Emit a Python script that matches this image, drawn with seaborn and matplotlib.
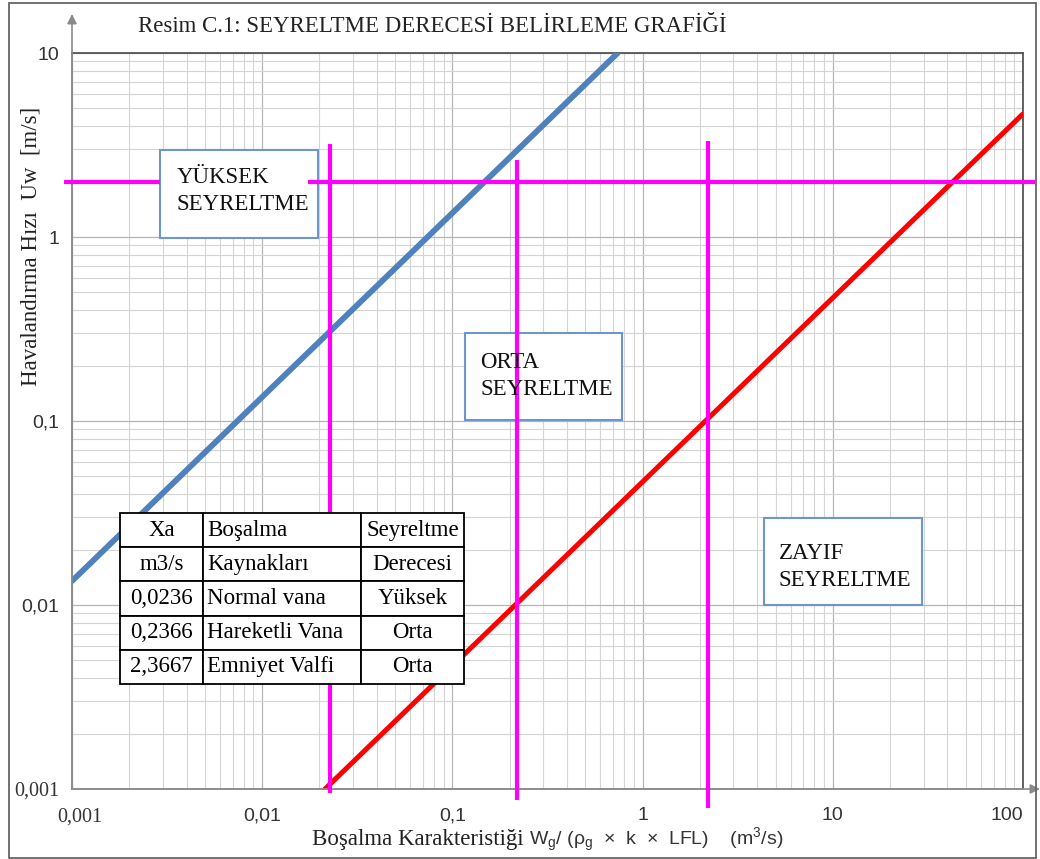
import matplotlib
matplotlib.use("Agg")
import matplotlib.pyplot as plt
import matplotlib.transforms as mtransforms
import seaborn as sns
from matplotlib.patches import Rectangle

# ---------------- data ----------------
blue_x = [0.001, 0.74]
blue_y = [0.0135, 10.0]
red_x = [0.0214, 100.0]
red_y = [0.001, 4.67]
uw_limit = 2.0
hline_segments = [(0.00091, 0.0029), (0.0174, 115.0)]
release_x = [0.0228, 0.219, 2.21]
release_top = [3.2, 2.62, 3.32]
release_bottom = [0.00095, 0.00087, 0.00079]
x_ticks = [0.001, 0.01, 0.1, 1, 10, 100]
x_ticklabels = ["0,001", "0,01", "0,1", "1", "10", "100"]
y_ticks = [0.001, 0.01, 0.1, 1, 10]
y_ticklabels = ["0,001", "0,01", "0,1", "1", "10"]
table_cells = [["Xa", "Boşalma", "Seyreltme"],
               ["m3/s", "Kaynakları", "Derecesi"],
               ["0,0236", "Normal vana", "Yüksek"],
               ["0,2366", "Hareketli Vana", "Orta"],
               ["2,3667", "Emniyet Valfi", "Orta"]]
zone_labels = ["YÜKSEK\nSEYRELTME", "ORTA\nSEYRELTME", "ZAYIF\nSEYRELTME"]
title = "Resim C.1: SEYRELTME DERECESİ BELİRLEME GRAFİĞİ"
ylabel = "Havalandırma Hızı  Uw  [m/s]"
xlabel_text = "Boşalma Karakteristiği"
xlabel_formula = r"W$_{g}$/ (ρ$_{g}$  ×  k  ×  LFL)    (m$^{3}$/s)"

# ---------------- style ----------------
sns.set_style("white")
plt.rcParams["font.family"] = ["Liberation Sans", "DejaVu Sans"]
plt.rcParams["mathtext.fontset"] = "custom"
plt.rcParams["mathtext.rm"] = "Liberation Sans"
plt.rcParams["mathtext.it"] = "Liberation Sans"
plt.rcParams["mathtext.default"] = "rm"

SERIF = ["Liberation Serif", "DejaVu Serif"]
BLUE = "#4f81bd"
RED = "#ff0000"
MAG = "#ff00ff"
BOXEDGE = "#6f96cc"

W, H = 1040, 859
fig = plt.figure(figsize=(W / 100, H / 100), dpi=100)
L, R, T, B = 72, 1023, 53, 789
ax = fig.add_axes([L / W, 1 - B / H, (R - L) / W, (B - T) / H])
ax.set_xscale("log")
ax.set_yscale("log")
ax.set_xlim(0.001, 100)
ax.set_ylim(0.001, 10)

ax.grid(which="major", color="#b5b5b5", lw=0.9, zorder=0)
ax.grid(which="minor", color="#d4d4d4", lw=0.8, zorder=0)
ax.set_axisbelow(True)

# lines
sns.lineplot(x=blue_x, y=blue_y, ax=ax, color=BLUE, lw=4.2, zorder=3)
sns.lineplot(x=red_x, y=red_y, ax=ax, color=RED, lw=3.6, zorder=3)

for x0, x1 in hline_segments:
    ax.plot([x0, x1], [uw_limit, uw_limit], color=MAG, lw=3, clip_on=False, zorder=4,
            solid_capstyle="butt")
for xv, yt, yb in zip(release_x, release_top, release_bottom):
    ax.plot([xv, xv], [yb, yt], color=MAG, lw=3, clip_on=False, zorder=4,
            solid_capstyle="butt")

# zone boxes (axes fraction)
def fx(px):
    return (px - L) / (R - L)

def fy(py):
    return (B - py) / (B - T)

boxes = [(160, 150, 318, 238, 177, 191),
         (465, 333, 622, 420, 480, 376),
         (764, 518, 922, 605, 779, 567)]
for (x0, y0, x1, y1, tx, ty), lab in zip(boxes, zone_labels):
    ax.add_patch(Rectangle((fx(x0), fy(y1)), fx(x1) - fx(x0), fy(y0) - fy(y1),
                           transform=ax.transAxes, facecolor="white",
                           edgecolor=BOXEDGE, lw=1.5, zorder=3.5))
    ax.text(fx(tx), fy(ty), lab, transform=ax.transAxes, ha="left", va="center",
            fontsize=16.5, family=SERIF, color="#111111", linespacing=1.35, zorder=6)

# table
tx0, ty0, tx1, ty1 = 120, 513, 464, 684
tbl = ax.table(cellText=table_cells, colWidths=[83, 158, 103],
               bbox=[fx(tx0), fy(ty1), fx(tx1) - fx(tx0), fy(ty0) - fy(ty1)],
               zorder=7)
tbl.auto_set_font_size(False)
for (r, c), cell in tbl.get_celld().items():
    cell.set_facecolor("white")
    cell.set_edgecolor("black")
    cell.set_linewidth(1.3)
    txt = cell.get_text()
    txt.set_fontsize(16.5)
    txt.set_fontfamily(SERIF)
    txt.set_color("black")
    if c == 1:
        cell._loc = "left"
        cell.PAD = 0.025
        txt.set_ha("left")
    else:
        cell._loc = "center"
        txt.set_ha("center")

# ticks
ax.set_xticks(x_ticks)
ax.set_xticklabels(x_ticklabels, fontsize=14, color="#333333")
ax.set_yticks(y_ticks)
ax.set_yticklabels(y_ticklabels, fontsize=14, color="#333333")
ax.tick_params(which="major", length=6, width=1, color="#999999", direction="out")
ax.tick_params(axis="x", which="major", pad=7)
ax.tick_params(axis="y", which="major", pad=3)
ax.tick_params(which="minor", length=0)
xl = ax.get_xticklabels()
xl[0].set_fontfamily(SERIF)
xl[0].set_fontsize(14.5)
xl[0].set_transform(xl[0].get_transform() +
                    mtransforms.ScaledTranslation(8 / 100, 0, fig.dpi_scale_trans))
xl[-1].set_ha("right")
yl = ax.get_yticklabels()
yl[0].set_fontfamily(SERIF)
yl[0].set_fontsize(14.5)

for side in ["left", "bottom"]:
    ax.spines[side].set_color("#999999")
    ax.spines[side].set_linewidth(1.2)
for side in ["top", "right"]:
    ax.spines[side].set_color("#555555")
    ax.spines[side].set_linewidth(1.3)

# axis arrows
ax.annotate("", xy=(L / W, 1 - 14 / H), xytext=(L / W, 1 - B / H),
            xycoords="figure fraction", textcoords="figure fraction",
            arrowprops=dict(arrowstyle="-|>", color="#8a8a8a", lw=1.2,
                            mutation_scale=14, shrinkA=0, shrinkB=0))
ax.annotate("", xy=(1040 / W, 1 - B / H), xytext=(L / W, 1 - B / H),
            xycoords="figure fraction", textcoords="figure fraction",
            arrowprops=dict(arrowstyle="-|>", color="#8a8a8a", lw=1.2,
                            mutation_scale=14, shrinkA=0, shrinkB=0))

# texts
fig.text(138 / W, 1 - 26 / H, title, ha="left", va="center", fontsize=16.5,
         family=SERIF, color="#222222")
fig.text(31 / W, 1 - 246 / H, ylabel, ha="center", va="center", rotation=90,
         fontsize=16.5, family=SERIF, color="#222222")
fig.text(523 / W, 1 - 845 / H, xlabel_text, ha="right", va="baseline",
         fontsize=16.5, family=SERIF, color="#222222")
fig.text(529 / W, 1 - 845 / H, xlabel_formula, ha="left", va="baseline",
         fontsize=14, color="#333333")

# outer frame
fig.add_artist(Rectangle((9 / W, 1 - 858 / H), (1036 - 9) / W, (858 - 3) / H,
                         transform=fig.transFigure, fill=False,
                         edgecolor="#666666", lw=1.3))

fig.savefig("out.png", dpi=100)
